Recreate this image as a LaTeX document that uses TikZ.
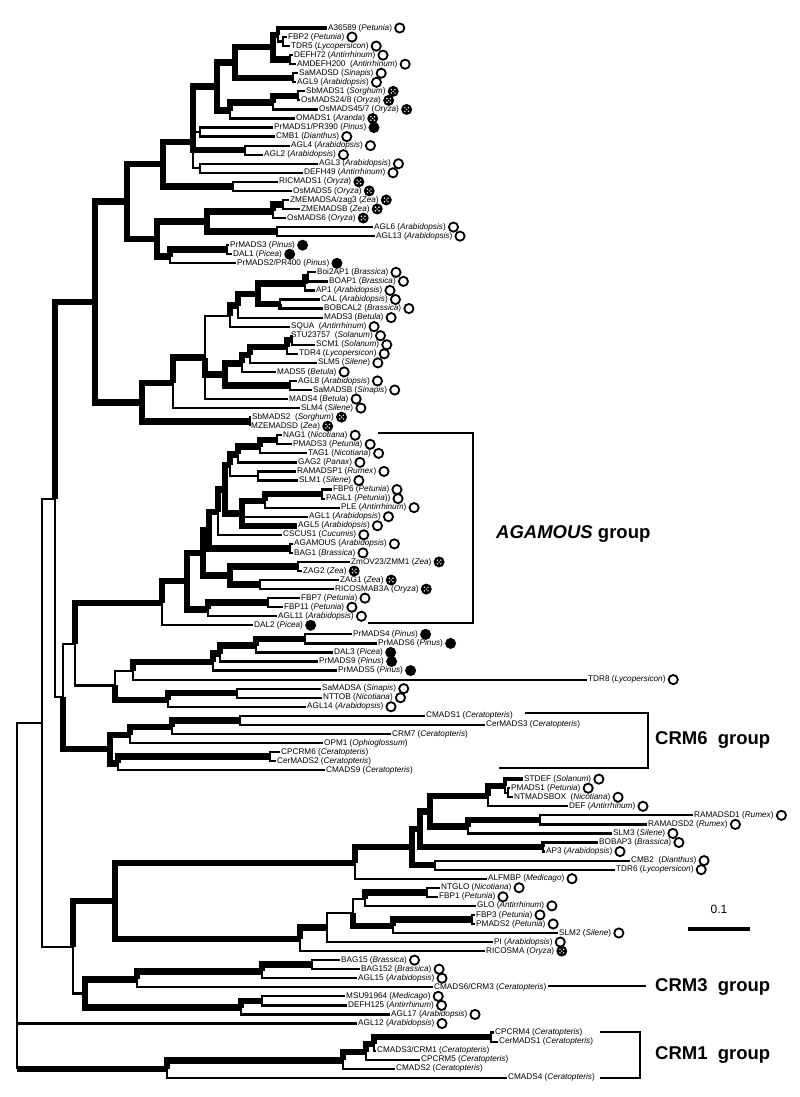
\documentclass[tikz,border=0pt]{standalone}
\usepackage{fontspec}
\setmainfont{Liberation Sans}
\usetikzlibrary{calc}
\newcommand\spc[1]{(\textit{#1})}
\newcommand\lf[5]{\coordinate (#1) at (#3,{18.95+9.05*#2});\node[lab] (#1t) at (#1) {#4};\node[#5] (#1m) at ([xshift=6.5pt]#1t.east) {};}
\newcommand\lfn[4]{\coordinate (#1) at (#3,{18.95+9.05*#2});\node[lab] (#1t) at (#1) {#4};}
\newcommand\nd[4]{\path let \p1=(#3), \p2=(#4) in coordinate (#1) at (#2pt,{0.5*\y1+0.5*\y2});}
\newcommand\E[3]{\draw[#3] (#1) |- (#2);}
\tikzset{
  lab/.style={anchor=west,inner xsep=1pt,inner ysep=0pt,font=\fontsize{8.2}{9}\selectfont},
  mko/.style={circle,draw,line width=1.8pt,minimum size=9.2pt,inner sep=0pt},
  mkf/.style={circle,fill,minimum size=11pt,inner sep=0pt},
  mkg/.style={circle,fill,minimum size=11pt,inner sep=0pt,path picture={
     \foreach \a in {45,135,225,315}{\fill[white] ($(path picture bounding box.center)+(\a:2.5pt)$) circle (0.8pt);}
     \fill[white] (path picture bounding box.center) circle (0.75pt);}},
  bk/.style={line width=6.5pt},
  bm/.style={line width=3.8pt},
  bt/.style={line width=2.2pt},
  brk/.style={line width=2.8pt},
  grp/.style={anchor=west,inner sep=0pt,font=\fontsize{18.5}{20}\selectfont\bfseries},
}
\begin{document}
\begin{tikzpicture}[x=1pt,y=-1pt]
\fill[white] (0,0) rectangle (800,1097);
\useasboundingbox (0,0) rectangle (800,1097);
% ---------- leaves ----------
\lf{L1}{1}{327}{A36589 \spc{Petunia}}{mko}
\lf{L2}{2}{287}{FBP2 \spc{Petunia}}{mko}
\lf{L3}{3}{290}{TDR5 \spc{Lycopersicon}}{mko}
\lf{L4}{4}{293}{DEFH72 \spc{Antirrhinum}}{mko}
\lf{L5}{5}{296}{AMDEFH200\ \ \spc{Antirrhinum}}{mko}
\lf{L6}{6}{298}{SaMADSD \spc{Sinapis}}{mko}
\lf{L7}{7}{296}{AGL9 \spc{Arabidopsis}}{mko}
\lf{L8}{8}{305}{SbMADS1 \spc{Sorghum}}{mkg}
\lf{L9}{9}{300}{OsMADS24/8 \spc{Oryza}}{mkg}
\lf{L10}{10}{318}{OsMADS45/7 \spc{Oryza}}{mkg}
\lf{L11}{11}{295}{OMADS1 \spc{Aranda}}{mkg}
\lf{L12}{12}{273}{PrMADS1/PR390 \spc{Pinus}}{mkf}
\lf{L13}{13}{275}{CMB1 \spc{Dianthus}}{mko}
\lf{L14}{14}{290}{AGL4 \spc{Arabidopsis}}{mko}
\lf{L15}{15}{263}{AGL2 \spc{Arabidopsis}}{mko}
\lf{L16}{16}{318}{AGL3 \spc{Arabidopsis}}{mko}
\lf{L17}{17}{303}{DEFH49 \spc{Antirrhinum}}{mko}
\lf{L18}{18}{278}{RICMADS1 \spc{Oryza}}{mkg}
\lf{L19}{19}{292}{OsMADS5 \spc{Oryza}}{mkg}
\lf{L20}{20}{289}{ZMEMADSA/zag3 \spc{Zea}}{mkg}
\lf{L21}{21}{300}{ZMEMADSB \spc{Zea}}{mkg}
\lf{L22}{22}{286}{OsMADS6 \spc{Oryza}}{mkg}
\lf{L23}{23}{373}{AGL6 \spc{Arabidopsis}}{mko}
\lf{L24}{24}{375}{AGL13 \spc{Arabidopsis}}{mko}
\lf{L25}{25}{229}{PrMADS3 \spc{Pinus}}{mkf}
\lf{L26}{26}{232}{DAL1 \spc{Picea}}{mkf}
\lf{L27}{27}{236}{PrMADS2/PR400 \spc{Pinus}}{mkf}
\lf{L28}{28}{316}{Boi2AP1 \spc{Brassica}}{mko}
\lf{L29}{29}{328}{BOAP1 \spc{Brassica}}{mko}
\lf{L30}{30}{315}{AP1 \spc{Arabidopsis}}{mko}
\lf{L31}{31}{320}{CAL \spc{Arabidopsis}}{mko}
\lf{L32}{32}{323}{BOBCAL2 \spc{Brassica}}{mko}
\lf{L33}{33}{323}{MADS3 \spc{Betula}}{mko}
\lf{L34}{34}{290}{SQUA\ \ \spc{Antirrhinum}}{mko}
\lf{L35}{35}{290}{STU23757\ \ \spc{Solanum}}{mko}
\lf{L36}{36}{315}{SCM1 \spc{Solanum}}{mko}
\lf{L37}{37}{298}{TDR4 \spc{Lycopersicon}}{mko}
\lf{L38}{38}{317}{SLM5 \spc{Silene}}{mko}
\lf{L39}{39}{276}{MADS5 \spc{Betula}}{mko}
\lf{L40}{40}{297}{AGL8 \spc{Arabidopsis}}{mko}
\lf{L41}{41}{312}{SaMADSB \spc{Sinapis}}{mko}
\lf{L42}{42}{288}{MADS4 \spc{Betula}}{mko}
\lf{L43}{43}{300}{SLM4 \spc{Silene}}{mko}
\lf{L44}{44}{251}{SbMADS2\ \ \spc{Sorghum}}{mkg}
\lf{L45}{45}{250}{MZEMADSD \spc{Zea}}{mkg}
\lf{L46}{46}{282}{NAG1 \spc{Nicotiana}}{mko}
\lf{L47}{47}{292}{PMADS3 \spc{Petunia}}{mko}
\lf{L48}{48}{307}{TAG1 \spc{Nicotiana}}{mko}
\lf{L49}{49}{297}{GAG2 \spc{Panax}}{mko}
\lf{L50}{50}{296}{RAMADSP1 \spc{Rumex}}{mko}
\lf{L51}{51}{298}{SLM1 \spc{Silene}}{mko}
\lf{L52}{52}{332}{FBP6 \spc{Petunia}}{mko}
\lf{L53}{53}{325}{PAGL1 \spc{Petunia})}{mko}
\lf{L54}{54}{340}{PLE \spc{Antirrhinum}}{mko}
\lf{L55}{55}{308}{AGL1 \spc{Arabidopsis}}{mko}
\lf{L56}{56}{297}{AGL5 \spc{Arabidopsis}}{mko}
\lf{L57}{57}{282}{CSCUS1 \spc{Cucumis}}{mko}
\lf{L58}{58}{293}{AGAMOUS \spc{Arabidopsis}}{mko}
\lf{L59}{59}{293}{BAG1 \spc{Brassica}}{mko}
\lf{L60}{60}{350}{ZmOV23/ZMM1 \spc{Zea}}{mkg}
\lf{L61}{61}{302}{ZAG2 \spc{Zea}}{mkg}
\lf{L62}{62}{339}{ZAG1 \spc{Zea}}{mkg}
\lf{L63}{63}{334}{RICOSMAB3A \spc{Oryza}}{mkg}
\lf{L64}{64}{300}{FBP7 \spc{Petunia}}{mko}
\lf{L65}{65}{283}{FBP11 \spc{Petunia}}{mko}
\lf{L66}{66}{277}{AGL11 \spc{Arabidopsis}}{mko}
\lf{L67}{67}{253}{DAL2 \spc{Picea}}{mkf}
\lf{L68}{68}{352}{PrMADS4 \spc{Pinus}}{mkf}
\lf{L69}{69}{377}{PrMADS6 \spc{Pinus}}{mkf}
\lf{L70}{70}{333}{DAL3 \spc{Picea}}{mkf}
\lf{L71}{71}{318}{PrMADS9 \spc{Pinus}}{mkf}
\lf{L72}{72}{337}{PrMADS5 \spc{Pinus}}{mkf}
\lf{L73}{73}{587}{TDR8 \spc{Lycopersicon}}{mko}
\lf{L74}{74}{321}{SaMADSA \spc{Sinapis}}{mko}
\lf{L75}{75}{322}{NTTOB \spc{Nicotiana}}{mko}
\lf{L76}{76}{306}{AGL14 \spc{Arabidopsis}}{mko}
\lfn{L77}{77}{425}{CMADS1 \spc{Ceratopteris}}
\lfn{L78}{78}{485}{CerMADS3 \spc{Ceratopteris}}
\lfn{L79}{79}{391}{CRM7 \spc{Ceratopteris}}
\lfn{L80}{80}{323}{OPM1 \spc{Ophioglossum}}
\lfn{L81}{81}{280}{CPCRM6 \spc{Ceratopteris}}
\lfn{L82}{82}{276}{CerMADS2 \spc{Ceratopteris}}
\lfn{L83}{83}{325}{CMADS9 \spc{Ceratopteris}}
\lf{L84}{84}{523}{STDEF \spc{Solanum}}{mko}
\lf{L85}{85}{510}{PMADS1 \spc{Petunia}}{mko}
\lf{L86}{86}{513}{NTMADSBOX\ \ \spc{Nicotiana}}{mko}
\lf{L87}{87}{568}{DEF \spc{Antirrhinum}}{mko}
\lf{L88}{88}{693}{RAMADSD1 \spc{Rumex}}{mko}
\lf{L89}{89}{647}{RAMADSD2 \spc{Rumex}}{mko}
\lf{L90}{90}{612}{SLM3 \spc{Silene}}{mko}
\lf{L91}{91}{598}{BOBAP3 \spc{Brassica}}{mko}
\lf{L92}{92}{545}{AP3 \spc{Arabidopsis}}{mko}
\lf{L93}{93}{630}{CMB2\ \ \spc{Dianthus}}{mko}
\lf{L94}{94}{615}{TDR6 \spc{Lycopersicon}}{mko}
\lf{L95}{95}{487}{ALFMBP \spc{Medicago}}{mko}
\lf{L96}{96}{440}{NTGLO \spc{Nicotiana}}{mko}
\lf{L97}{97}{438}{FBP1 \spc{Petunia}}{mko}
\lf{L98}{98}{476}{GLO \spc{Antirrhinum}}{mko}
\lf{L99}{99}{475}{FBP3 \spc{Petunia}}{mko}
\lf{L100}{100}{475}{PMADS2 \spc{Petunia}}{mko}
\lf{L101}{101}{558}{SLM2 \spc{Silene}}{mko}
\lf{L102}{102}{493}{PI \spc{Arabidopsis}}{mko}
\lf{L103}{103}{485}{RICOSMA \spc{Oryza}}{mkg}
\lf{L104}{104}{340}{BAG15 \spc{Brassica}}{mko}
\lf{L105}{105}{360}{BAG152 \spc{Brassica}}{mko}
\lf{L106}{106}{357}{AGL15 \spc{Arabidopsis}}{mko}
\lfn{L107}{107}{433}{CMADS6/CRM3 \spc{Ceratopteris}}
\lf{L108}{108}{345}{MSU91964 \spc{Medicago}}{mko}
\lf{L109}{109}{347}{DEFH125 \spc{Antirrhinum}}{mko}
\lf{L110}{110}{390}{AGL17 \spc{Arabidopsis}}{mko}
\lf{L111}{111}{357}{AGL12 \spc{Arabidopsis}}{mko}
\lfn{L112}{112}{494}{CPCRM4 \spc{Ceratopteris}}
\lfn{L113}{113}{498}{CerMADS1 \spc{Ceratopteris}}
\lfn{L114}{114}{376}{CMADS3/CRM1 \spc{Ceratopteris}}
\lfn{L115}{115}{420}{CPCRM5 \spc{Ceratopteris}}
\lfn{L116}{116}{395}{CMADS2 \spc{Ceratopteris}}
\lfn{L117}{117}{507}{CMADS4 \spc{Ceratopteris}}
% ---------- internal nodes ----------
\nd{a1}{283}{L2}{L3} \nd{a1b}{278}{L1}{a1} \nd{a2}{290}{L4}{L5}
\nd{a3}{273}{a1b}{a2} \nd{a4}{293}{L6}{L7} \nd{a5}{235}{a3}{a4}
\nd{a6}{298}{L8}{L9} \nd{a7}{273}{a6}{L10} \nd{a8}{230}{a7}{L11}
\nd{a9}{217}{a5}{a8} \nd{a10}{200}{L12}{L13} \nd{a11}{245}{L14}{L15}
\nd{a12}{200}{L16}{L17} \coordinate (a13) at (193,142); \nd{a14}{233}{L18}{L19}
\nd{a15}{163}{a13}{a14} \nd{a16}{283}{L20}{L21} \nd{a17}{273}{a16}{L22}
\nd{a18}{277}{L23}{L24} \nd{a19}{207}{a17}{a18} \nd{a20}{227}{L25}{L26}
\nd{a21}{170}{a20}{L27} \nd{a22}{157}{a19}{a21} \nd{a23}{127}{a15}{a22}
\nd{b1}{308}{L28}{L29} \nd{b2}{305}{b1}{L30} \nd{b3}{280}{L31}{L32}
\nd{b4}{258}{b2}{b3} \nd{b5}{238}{b4}{L33} \nd{b6}{230}{b5}{L34}
\nd{b7}{292}{L35}{L36} \nd{b8}{287}{b7}{L37} \nd{b9}{250}{b8}{L38}
\nd{b10}{242}{b9}{L39} \nd{b11}{290}{L40}{L41} \nd{b12}{225}{b10}{b11}
\nd{b13}{205}{b6}{L42} \nd{b14}{173}{b13}{L43} \nd{b15}{250}{L44}{L45}
\nd{b16}{142}{b14}{b15} \nd{c1}{95}{a23}{b16}
\nd{d1}{277}{L46}{L47} \nd{d2}{260}{d1}{L48} \nd{d3}{238}{d2}{L49}
\nd{d4}{258}{L50}{L51} \nd{d5}{230}{d3}{d4} \nd{d6}{322}{L52}{L53}
\nd{d7}{265}{d6}{L54} \nd{d9}{242}{d7}{L56} \nd{d10}{225}{d5}{d9}
\nd{d11}{218}{d10}{L57} \nd{d12}{290}{L58}{L59} \nd{d16}{209}{d11}{d12}
\nd{d13}{298}{L60}{L61} \nd{d14}{260}{L62}{L63} \nd{d15}{230}{d13}{d14}
\nd{d17}{203}{d16}{d15} \nd{d20}{268}{L64}{L65} \nd{d19}{208}{d20}{L66}
\nd{d18}{187}{d17}{d19} \nd{d21}{162}{d18}{L67}
\nd{d22}{305}{L68}{L69} \nd{d23}{256}{d22}{L70} \nd{d24}{220}{d23}{L71}
\nd{d25}{213}{d24}{L72} \nd{d26}{133}{d25}{L73} \nd{d27}{237}{L74}{L75}
\nd{d28}{168}{d27}{L76} \nd{d29}{115}{d26}{d28} \nd{d30}{75}{d21}{d29}
\nd{e1}{240}{L77}{L78} \nd{e2}{172}{e1}{L79} \nd{e3}{130}{e2}{L80}
\nd{e6}{270}{L81}{L82} \nd{e5}{118}{e6}{L83} \nd{e4}{110}{e3}{e5}
\nd{d31}{63}{d30}{e4} \nd{c2}{55}{c1}{d31}
\nd{h1}{508}{L85}{L86} \nd{h2}{505}{L84}{h1} \nd{h3}{488}{h2}{L87}
\nd{h4}{540}{L88}{L89} \nd{h5}{468}{h4}{L90} \nd{h9}{430}{h3}{h5}
\nd{h7}{543}{L91}{L92} \nd{h10}{420}{h9}{h7} \nd{h8}{435}{L93}{L94}
\nd{h11}{412}{h10}{h8} \nd{h11b}{355}{h11}{L95}
\nd{h12}{427}{L96}{L97} \nd{h13}{365}{h12}{L98} \nd{h14}{472}{L99}{L100}
\nd{h15}{393}{h14}{L101} \nd{h16}{353}{h13}{h15} \nd{h17}{327}{h16}{L102}
\nd{h18}{300}{h17}{L103} \nd{h19}{115}{h11b}{h18}
\nd{g1}{312}{L104}{L105} \nd{g2}{262}{g1}{L106} \nd{g3}{137}{g2}{L107}
\nd{g4}{262}{L108}{L109} \nd{g5}{241}{g4}{L110} \nd{g6}{85}{g3}{g5}
\nd{f1}{73}{h19}{g6} \nd{c3}{42}{c2}{f1}
\nd{i1}{491}{L112}{L113} \nd{i2}{374}{i1}{L114} \nd{i3}{366}{i2}{L115}
\nd{i4}{343}{i3}{L116} \nd{i5}{167}{i4}{L117} \nd{root}{17}{c3}{i5}
\coordinate (rc) at (root |- i5);
% ---------- branches ----------
\E{a1b}{L1}{bm} \E{a1b}{a1}{bt} \E{a1}{L2}{bt} \E{a1}{L3}{bt}
\E{a2}{L4}{bt} \E{a2}{L5}{bt} \E{a3}{a1b}{bk} \E{a3}{a2}{bk}
\E{a4}{L6}{bt} \E{a4}{L7}{bt} \E{a5}{a3}{bk} \E{a5}{a4}{bk}
\E{a6}{L8}{bt} \E{a6}{L9}{bt} \E{a7}{a6}{bk} \E{a7}{L10}{bt}
\E{a8}{a7}{bk} \E{a8}{L11}{bt} \E{a9}{a5}{bk} \E{a9}{a8}{bk}
\E{a10}{L12}{bt} \E{a10}{L13}{bt} \E{a11}{L14}{bt} \E{a11}{L15}{bt}
\E{a12}{L16}{bt} \E{a12}{L17}{bt}
\E{a13}{a10}{bt} \E{a13}{a12}{bt} \E{a13}{a11}{bk} \E{a13}{a9}{bk}
\E{a14}{L18}{bt} \E{a14}{L19}{bt} \E{a15}{a13}{bk} \E{a15}{a14}{bk}
\E{a16}{L20}{bt} \E{a16}{L21}{bt} \E{a17}{a16}{bk} \E{a17}{L22}{bt}
\E{a18}{L23}{bt} \E{a18}{L24}{bt} \E{a19}{a17}{bk} \E{a19}{a18}{bk}
\E{a20}{L25}{bt} \E{a20}{L26}{bt} \E{a21}{a20}{bk} \E{a21}{L27}{bt}
\E{a22}{a19}{bk} \E{a22}{a21}{bk} \E{a23}{a15}{bk} \E{a23}{a22}{bk}
\E{b1}{L28}{bt} \E{b1}{L29}{bt} \E{b2}{b1}{bk} \E{b2}{L30}{bt}
\E{b3}{L31}{bt} \E{b3}{L32}{bm} \E{b4}{b2}{bk} \E{b4}{b3}{bk}
\E{b5}{b4}{bk} \E{b5}{L33}{bt} \E{b6}{b5}{bk} \E{b6}{L34}{bt}
\E{b7}{L35}{bt} \E{b7}{L36}{bt} \E{b8}{b7}{bk} \E{b8}{L37}{bt}
\E{b9}{b8}{bk} \E{b9}{L38}{bt} \E{b10}{b9}{bk} \E{b10}{L39}{bt}
\E{b11}{L40}{bt} \E{b11}{L41}{bt} \E{b12}{b10}{bk} \E{b12}{b11}{bk}
\E{b13}{b6}{bt} \E{b13}{L42}{bt} \E{b13}{b12}{bk}
\E{b14}{b13}{bk} \E{b14}{L43}{bt} \E{b15}{L44}{bt} \E{b15}{L45}{bt}
\E{b16}{b14}{bk} \E{b16}{b15}{bk} \E{c1}{a23}{bk} \E{c1}{b16}{bk}
\E{d1}{L46}{bt} \E{d1}{L47}{bt} \E{d2}{d1}{bk} \E{d2}{L48}{bt}
\E{d3}{d2}{bk} \E{d3}{L49}{bt} \E{d4}{L50}{bt} \E{d4}{L51}{bt}
\E{d5}{d3}{bk} \E{d5}{d4}{bt} \E{d6}{L52}{bt} \E{d6}{L53}{bt}
\E{d7}{d6}{bk} \E{d7}{L54}{bt} \E{d9}{d7}{bk} \E{d9}{L55}{bt} \E{d9}{L56}{bk}
\E{d10}{d5}{bk} \E{d10}{d9}{bk} \E{d11}{d10}{bk} \E{d11}{L57}{bt}
\E{d12}{L58}{bt} \E{d12}{L59}{bt} \E{d16}{d11}{bk} \E{d16}{d12}{bk}
\E{d13}{L60}{bt} \E{d13}{L61}{bt} \E{d14}{L62}{bt} \E{d14}{L63}{bt}
\E{d15}{d13}{bk} \E{d15}{d14}{bk} \E{d17}{d16}{bk} \E{d17}{d15}{bk}
\E{d20}{L64}{bt} \E{d20}{L65}{bt} \E{d19}{d20}{bk} \E{d19}{L66}{bt}
\E{d18}{d17}{bk} \E{d18}{d19}{bk} \E{d21}{d18}{bk} \E{d21}{L67}{bt}
\E{d22}{L68}{bt} \E{d22}{L69}{bt} \E{d23}{d22}{bk} \E{d23}{L70}{bt}
\E{d24}{d23}{bk} \E{d24}{L71}{bt} \E{d25}{d24}{bk} \E{d25}{L72}{bt}
\E{d26}{d25}{bk} \E{d26}{L73}{bt} \E{d27}{L74}{bt} \E{d27}{L75}{bt}
\E{d28}{d27}{bk} \E{d28}{L76}{bt} \E{d29}{d26}{bt} \E{d29}{d28}{bk}
\E{d30}{d21}{bk} \E{d30}{d29}{bt}
\E{e1}{L77}{bt} \E{e1}{L78}{bt} \E{e2}{e1}{bk} \E{e2}{L79}{bt}
\E{e3}{e2}{bk} \E{e3}{L80}{bt} \E{e6}{L81}{bt} \E{e6}{L82}{bt}
\E{e5}{e6}{bk} \E{e5}{L83}{bt} \E{e4}{e3}{bk} \E{e4}{e5}{bk}
\E{d31}{d30}{bt} \E{d31}{e4}{bk} \E{c2}{c1}{bk} \E{c2}{d31}{bt}
\E{h1}{L85}{bt} \E{h1}{L86}{bt} \E{h2}{L84}{bm} \E{h2}{h1}{bt}
\E{h3}{h2}{bk} \E{h3}{L87}{bt} \E{h4}{L88}{bt} \E{h4}{L89}{bt}
\E{h5}{h4}{bk} \E{h5}{L90}{bt} \E{h9}{h3}{bk} \E{h9}{h5}{bk}
\E{h7}{L91}{bm} \E{h7}{L92}{bt} \E{h10}{h9}{bk} \E{h10}{h7}{bk}
\E{h8}{L93}{bt} \E{h8}{L94}{bt} \E{h11}{h10}{bk} \E{h11}{h8}{bk}
\E{h11b}{h11}{bk} \E{h11b}{L95}{bt}
\E{h12}{L96}{bt} \E{h12}{L97}{bt} \E{h13}{h12}{bk} \E{h13}{L98}{bt}
\E{h14}{L99}{bt} \E{h14}{L100}{bt} \E{h15}{h14}{bk} \E{h15}{L101}{bt}
\E{h16}{h13}{bt} \E{h16}{h15}{bk} \E{h17}{h16}{bt} \E{h17}{L102}{bt}
\E{h18}{h17}{bk} \E{h18}{L103}{bt}
\E{h19}{h11b}{bk} \E{h19}{h18}{bk}
\E{g1}{L104}{bt} \E{g1}{L105}{bt} \E{g2}{g1}{bk} \E{g2}{L106}{bt}
\E{g3}{g2}{bk} \E{g3}{L107}{bt} \E{g4}{L108}{bt} \E{g4}{L109}{bt}
\E{g5}{g4}{bk} \E{g5}{L110}{bt} \E{g6}{g3}{bk} \E{g6}{g5}{bk}
\E{f1}{h19}{bk} \E{f1}{g6}{bt} \E{c3}{c2}{bt} \E{c3}{f1}{bt}
\E{i1}{L112}{bt} \E{i1}{L113}{bt} \E{i2}{i1}{bk} \E{i2}{L114}{bt}
\E{i3}{i2}{bk} \E{i3}{L115}{bt} \E{i4}{i3}{bk} \E{i4}{L116}{bt}
\E{i5}{i4}{bk} \E{i5}{L117}{bt}
\E{root}{c3}{bt} \E{root}{L111}{bt}
\draw[bt] (root) -- (rc); \draw[bk] (rc) -- (i5);
% ---------- group brackets ----------
\coordinate (ag1) at (378,433); \coordinate (ag2) at (473,433);
\coordinate (ag3) at (473,623); \coordinate (ag4) at (368,623);
\draw[brk] (ag1) -- (ag2) -- (ag3) -- (ag4);
\node[grp] (agl) at (496,534) {\textit{AGAMOUS} group};
\coordinate (c61) at (525,713); \coordinate (c62) at (648,713);
\coordinate (c63) at (648,768); \coordinate (c64) at (499,768);
\draw[brk] (c61) -- (c62) -- (c63) -- (c64);
\node[grp] (c6l) at (655,740) {CRM6\ \ group};
\coordinate (c31) at (548,986); \coordinate (c32) at (646,986);
\draw[brk] (c31) -- (c32);
\node[grp] (c3l) at (655,987) {CRM3\ \ group};
\coordinate (c11) at (600,1032); \coordinate (c12) at (640,1032);
\coordinate (c13) at (640,1078); \coordinate (c14) at (600,1078);
\draw[brk] (c11) -- (c12) -- (c13) -- (c14);
\node[grp] (c1l) at (655,1055) {CRM1\ \ group};
% ---------- scale bar ----------
\coordinate (sb1) at (688,929); \coordinate (sb2) at (750,929);
\draw[line width=4pt] (sb1) -- (sb2);
\node[font=\fontsize{12}{12}\selectfont] (sbt) at (719,909) {0.1};
\end{tikzpicture}
\end{document}
